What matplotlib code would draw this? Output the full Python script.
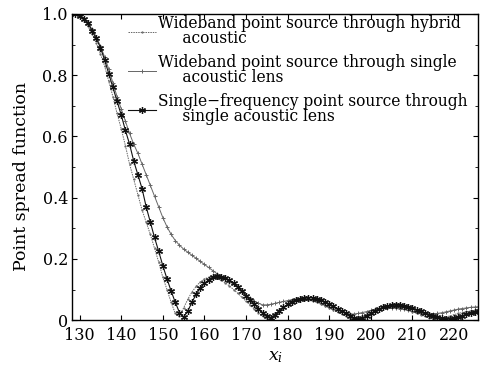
import matplotlib
matplotlib.use("Agg")
import matplotlib.pyplot as plt
from matplotlib.ticker import MultipleLocator, FixedLocator

plt.rcParams['font.family'] = ['DejaVu Serif']
plt.rcParams['mathtext.fontset'] = 'dejavuserif'

x = list(range(129, 227))

hybrid = [1.0, 0.993, 0.98, 0.96, 0.935, 0.905, 0.87, 0.83, 0.78, 0.73,
          0.675, 0.625, 0.57, 0.51, 0.46, 0.41, 0.36, 0.32, 0.28, 0.235,
          0.19, 0.14, 0.1, 0.058, 0.022, 0.015, 0.04, 0.068, 0.092, 0.11,
          0.125, 0.135, 0.14, 0.14, 0.137, 0.13, 0.122, 0.112, 0.1, 0.088,
          0.075, 0.062, 0.049, 0.036, 0.024, 0.013, 0.008, 0.013, 0.022, 0.032,
          0.042, 0.05, 0.057, 0.062, 0.065, 0.066, 0.065, 0.062, 0.058, 0.052,
          0.046, 0.04, 0.033, 0.026, 0.02, 0.013, 0.007, 0.004, 0.006, 0.012,
          0.019, 0.026, 0.032, 0.037, 0.04, 0.042, 0.042, 0.041, 0.039, 0.036,
          0.032, 0.027, 0.022, 0.017, 0.012, 0.008, 0.005, 0.004, 0.006, 0.01,
          0.014, 0.018, 0.022, 0.025, 0.028, 0.03, 0.031, 0.032]

single_lens = [1.0, 0.995, 0.985, 0.97, 0.95, 0.925, 0.895, 0.86, 0.82, 0.775,
               0.73, 0.69, 0.65, 0.61, 0.575, 0.545, 0.51, 0.475, 0.44, 0.405,
               0.37, 0.335, 0.305, 0.28, 0.26, 0.245, 0.232, 0.222, 0.212, 0.202,
               0.192, 0.182, 0.172, 0.162, 0.152, 0.143, 0.135, 0.126, 0.117, 0.106,
               0.095, 0.083, 0.072, 0.062, 0.055, 0.05, 0.05, 0.052, 0.055, 0.058,
               0.061, 0.064, 0.067, 0.069, 0.07, 0.07, 0.068, 0.065, 0.061, 0.056,
               0.05, 0.044, 0.038, 0.032, 0.027, 0.023, 0.02, 0.02, 0.022, 0.025,
               0.028, 0.032, 0.035, 0.038, 0.04, 0.041, 0.041, 0.04, 0.038, 0.035,
               0.032, 0.029, 0.026, 0.024, 0.022, 0.021, 0.021, 0.022, 0.024, 0.027,
               0.03, 0.033, 0.036, 0.038, 0.04, 0.042, 0.043, 0.044]

single_freq = [1.0, 0.995, 0.985, 0.97, 0.945, 0.92, 0.89, 0.85, 0.805, 0.76,
               0.715, 0.67, 0.62, 0.575, 0.52, 0.475, 0.43, 0.37, 0.32, 0.27,
               0.225, 0.178, 0.135, 0.095, 0.058, 0.025, 0.01, 0.03, 0.058, 0.085,
               0.105, 0.12, 0.132, 0.14, 0.143, 0.142, 0.138, 0.13, 0.12, 0.108,
               0.095, 0.08, 0.066, 0.052, 0.038, 0.024, 0.012, 0.008, 0.018, 0.03,
               0.042, 0.052, 0.06, 0.066, 0.07, 0.073, 0.074, 0.073, 0.07, 0.066,
               0.06, 0.053, 0.046, 0.038, 0.03, 0.022, 0.015, 0.008, 0.004, 0.006,
               0.014, 0.022, 0.03, 0.037, 0.042, 0.046, 0.048, 0.049, 0.048, 0.046,
               0.043, 0.039, 0.034, 0.029, 0.023, 0.018, 0.013, 0.009, 0.006, 0.004,
               0.004, 0.006, 0.01, 0.015, 0.019, 0.023, 0.027, 0.03]

labels = ["Wideband point source through hybrid\n     acoustic",
          "Wideband point source through single\n     acoustic lens",
          "Single\u2212frequency point source through\n     single acoustic lens"]

xticks = [130, 140, 150, 160, 170, 180, 190, 200, 210, 220]
yticks = [0, 0.2, 0.4, 0.6, 0.8, 1.0]
ytick_labels = ["0", "0.2", "0.4", "0.6", "0.8", "1.0"]

fig = plt.figure(figsize=(4.81, 3.68), dpi=100)
ax = fig.add_axes([0.150, 0.130, 0.844, 0.832])

ax.plot(x, hybrid, color='#666666', lw=0.7, ls=(0, (1.5, 1)),
        marker='.', markersize=1.2, label=labels[0])
ax.plot(x, single_lens, color='#666666', lw=0.7, ls='-',
        marker='+', markersize=3.2, markeredgewidth=0.7, label=labels[1])
ax.plot(x, single_freq, color='#111111', lw=0.8, ls='-',
        marker=(6, 2, 0), markersize=5, markeredgewidth=0.9, label=labels[2])

ax.set_xlim(128.2, 225.8)
ax.set_ylim(0, 1.0)
ax.xaxis.set_major_locator(FixedLocator(xticks))
ax.set_yticks(yticks)
ax.set_yticklabels(ytick_labels)
ax.yaxis.set_minor_locator(MultipleLocator(0.1))
ax.tick_params(which='both', direction='in', top=True, right=True,
               labelsize=11.5)
ax.tick_params(axis='x', pad=5)
ax.tick_params(axis='y', pad=3)
ax.tick_params(which='major', length=3.5)
ax.tick_params(which='minor', length=2)
for s in ax.spines.values():
    s.set_linewidth(1.0)

ax.set_xlabel("$x_i$", fontsize=12.5, labelpad=3)
ax.set_ylabel("Point spread function", fontsize=12.5, labelpad=4)
ax.yaxis.set_label_coords(-0.105, 0.47)

leg = ax.legend(loc='upper right', frameon=False, fontsize=11.2,
                handlelength=1.8, handletextpad=0.15, labelspacing=0.45,
                borderaxespad=0.0, borderpad=0.1,
                bbox_to_anchor=(0.978, 1.003))
for t in leg.get_texts():
    t.set_linespacing(0.85)

fig.savefig("out.png", dpi=100)
